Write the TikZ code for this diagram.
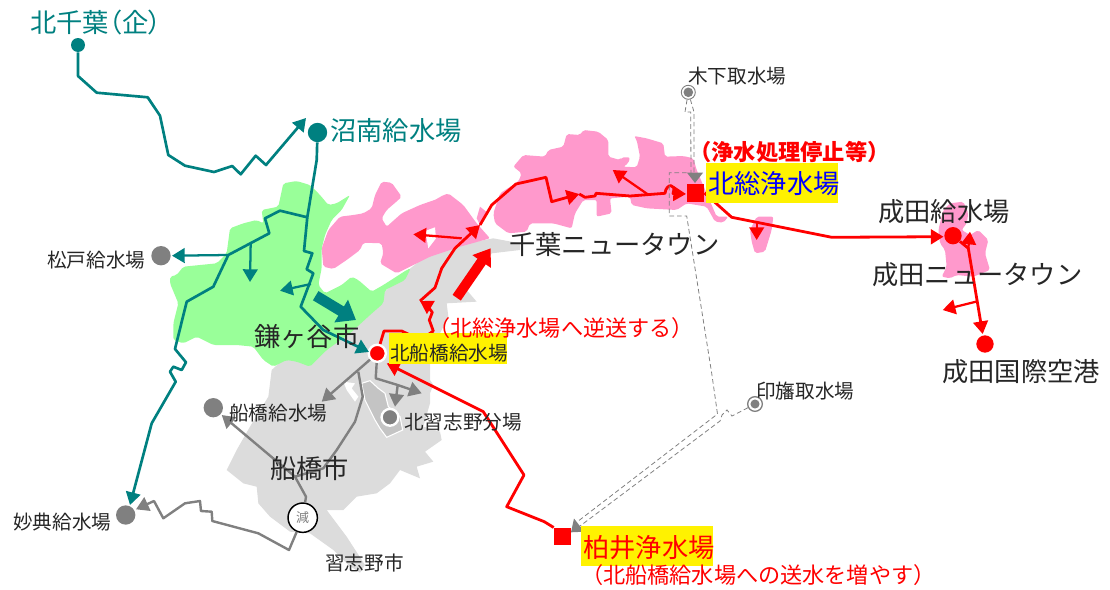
\documentclass[tikz,border=0pt]{standalone}
\usepackage{fontspec}
\setmainfont{Noto Sans CJK JP}
\newfontfamily\jpp[RawFeature=+palt]{Noto Sans CJK JP}
\usetikzlibrary{arrows.meta}
\definecolor{tealc}{HTML}{008080}
\definecolor{grayc}{HTML}{808080}
\definecolor{greenr}{HTML}{99FF99}
\definecolor{pinkr}{HTML}{FF99CC}
\definecolor{grayr}{HTML}{DCDCDC}
\definecolor{lgrayr}{HTML}{C4C4C4}
\definecolor{redc}{HTML}{FF0000}
\definecolor{inkc}{HTML}{262626}
\tikzset{
  zm/.style 2 args={shift={(#1,#2)},x=0.25pt,y=-0.25pt},
  soft/.style={rounded corners=1.5pt},
  lbig/.style={anchor=west,inner sep=0,text=inkc,font=\fontsize{19.7}{20}\selectfont},
  lsmall/.style={anchor=west,inner sep=0,text=inkc,font=\fontsize{14.7}{15}\selectfont},
  lnote/.style={anchor=west,inner sep=0,text=redc,font=\fontsize{16.6}{17}\selectfont},
  ybox/.style={fill=yellow,draw=none},
  site/.style={circle,inner sep=0,minimum size=#1,draw=none},
  sq/.style={rectangle,inner sep=0,minimum size=12.8pt,fill=redc},
  ht/.style={-{Triangle[length=9.5pt,width=11pt]}},
  teall/.style={draw=tealc,line width=2pt,line join=round},
  tealb/.style={draw=tealc,line width=1.7pt,ht},
  redl/.style={draw=redc,line width=2.1pt,line join=round},
  redb/.style={draw=redc,line width=1.7pt,ht},
  grayl/.style={draw=grayc,line width=1.8pt,line join=round},
  dash1/.style={draw=grayc,line width=0.6pt,dash pattern=on 3.5pt off 2.2pt},
}
\begin{document}
\begin{tikzpicture}[x=0.75pt,y=-0.75pt]
\useasboundingbox (0,0) rectangle (1110,589);
% ---------- regions ----------
\begin{scope}[zm={200}{270}]
\fill[grayr] (960,-80) -- (880,-95) -- (700,-60) -- (600,20) -- (530,90) -- (400,130) -- (215,300) -- (205,380) -- (150,470) -- (110,540) -- (80,600) -- (130,640) -- (170,650) -- (175,700) -- (210,740) -- (270,785) -- (330,790) -- (400,840) -- (445,885) -- (480,908) -- (495,885) -- (440,800) -- (380,720) -- (430,720) -- (470,680) -- (530,670) -- (570,640) -- (600,600) -- (660,625) -- (650,590) -- (700,575) -- (675,545) -- (725,510) -- (720,485) -- (670,470) -- (690,400) -- (690,370) -- (700,345) -- (690,330) -- (690,282) -- (720,190) -- (745,140) -- (740,100) -- (830,95) -- (800,60) -- (840,10) -- (875,-50) -- (960,-60) -- cycle;
\end{scope}
\begin{scope}[zm={150}{170}]
\fill[greenr,soft] (400,40) -- (440,33) -- (480,45) -- (510,75) -- (535,105) -- (560,100) -- (600,75) -- (575,120) -- (545,150) -- (525,195) -- (515,235) -- (515,295) -- (505,345) -- (525,370) -- (575,345) -- (605,320) -- (625,330) -- (665,365) -- (700,345) -- (770,300) -- (782,295) -- (765,330) -- (705,360) -- (700,400) -- (660,435) -- (600,490) -- (530,540) -- (480,590) -- (440,575) -- (410,570) -- (370,590) -- (340,570) -- (310,530) -- (260,525) -- (190,525) -- (140,500) -- (100,520) -- (70,510) -- (70,460) -- (85,400) -- (60,340) -- (60,320) -- (80,315) -- (100,290) -- (200,280) -- (230,250) -- (240,175) -- (280,160) -- (320,150) -- (340,160) -- (335,120) -- (385,110) -- cycle;
\end{scope}
\begin{scope}[zm={0}{0}]
\fill[pinkr,soft] (965,745) -- (985,690) -- (1020,650) -- (1060,645) -- (1090,640) -- (1115,625) -- (1125,585) -- (1145,545) -- (1175,548) -- (1205,590) -- (1195,600) -- (1160,630) -- (1145,655) -- (1160,680) -- (1205,640) -- (1260,615) -- (1312,597) -- (1320,590) -- (1345,580) -- (1390,615) -- (1430,670) -- (1470,715) -- (1380,740) -- (1290,770) -- (1230,800) -- (1190,820) -- (1140,790) -- (1150,760) -- (1145,730) -- (1090,728) -- (1080,750) -- (1040,780) -- (1000,807) -- (970,800) -- cycle;
\fill[white] (1270,695) -- (1305,682) -- (1308,715) -- (1285,745) -- (1280,715) -- cycle;
\end{scope}
\begin{scope}[zm={480}{60}]
\fill[pinkr,soft] (100,320) -- (130,285) -- (195,290) -- (205,270) -- (250,260) -- (260,222) -- (300,225) -- (310,210) -- (355,215) -- (385,240) -- (385,290) -- (420,300) -- (425,292) -- (450,292) -- (445,310) -- (430,320) -- (470,322) -- (480,290) -- (470,240) -- (462,228) -- (500,235) -- (550,250) -- (555,290) -- (610,288) -- (640,295) -- (650,330) -- (680,400) -- (710,470) -- (745,470) -- (730,488) -- (705,485) -- (680,440) -- (620,430) -- (590,450) -- (500,445) -- (455,435) -- (450,410) -- (390,415) -- (395,460) -- (350,470) -- (350,420) -- (310,420) -- (285,460) -- (275,505) -- (220,490) -- (150,490) -- (140,515) -- (85,520) -- (45,490) -- (40,460) -- (60,400) -- (115,365) -- (125,340) -- cycle;
\fill[pinkr] (0,440) -- (25,460) -- (0,495) -- (-10,475) -- cycle;
\fill[pinkr,soft] (810,510) -- (830,470) -- (880,470) -- (875,510) -- (855,575) -- (825,580) -- (815,545) -- cycle;
\end{scope}
\begin{scope}[zm={800}{180}]
\fill[pinkr,soft] (415,150) -- (430,90) -- (450,70) -- (490,65) -- (505,100) -- (500,130) -- (485,150) -- (510,165) -- (535,150) -- (565,180) -- (555,220) -- (570,270) -- (520,290) -- (470,285) -- (450,295) -- (425,290) -- (440,260) -- (435,210) -- (420,190) -- cycle;
\end{scope}
\begin{scope}[zm={330}{350}]
\fill[white] (40,95) -- (75,100) -- (65,115) -- (85,140) -- (75,155) -- (50,120) -- cycle;
\fill[lgrayr,draw=white,line width=0.8pt] (95,100) -- (120,92) -- (145,115) -- (165,130) -- (175,170) -- (210,200) -- (218,240) -- (170,262) -- (150,235) -- (135,210) -- (105,150) -- cycle;
\end{scope}
% ---------- stations ----------
\node[site=10.5pt,fill=tealc] (chiba) at (78,45) {};
\node[site=14.5pt,fill=tealc] (shonan) at (317.5,132.5) {};
\node[site=14.5pt,fill=grayc] (matsudo) at (161,255.7) {};
\node[site=14.5pt,fill=grayc] (funabashi) at (213.3,407.7) {};
\node[site=14.5pt,fill=grayc] (myoden) at (125.7,515) {};
\node[site=12.6pt,fill=grayc,draw=white,line width=1.8pt] (narashino) at (390,417.3) {};
\node[site=12.8pt,fill=redc,draw=white,line width=1.8pt] (kitafuna) at (377.3,353.3) {};
\node[site=13pt,fill=redc] (narita) at (953,235.7) {};
\node[site=13pt,fill=redc] (airport) at (985,344) {};
\node[sq] (hokuso) at (695.7,193) {};
\node[sq] (kashiwai) at (562.5,536.3) {};
\node[site=22pt,fill=white,draw=black,line width=1.1pt,text=grayc,font=\fontsize{9.75}{10}\selectfont] (gen) at (302.7,517.7) {減};
\node[site=10.5pt,fill=white,draw=grayc,line width=0.7pt] (kioroshi) at (688.3,92.3) {};
\fill[grayc] (kioroshi) circle (3.6pt);
\node[site=11pt,fill=white,draw=grayc,line width=1pt] (inba) at (755,404) {};
\fill[grayc] (inba) circle (3.4pt);
% ---------- free ends ----------
\coordinate (jA) at (307.3,217.3);
\coordinate (jB) at (228.3,255);
\coordinate (jC) at (269.3,233.3);
\coordinate (jD) at (311,284);
\coordinate (rJ1) at (420,301);
\coordinate (rJ2) at (480,225);
\coordinate (rJ3) at (579.3,194);
\coordinate (rJ4) at (647.7,194.3);
\coordinate (rJ5) at (756.7,223.3);
\coordinate (rJ6) at (968.3,248.3);
\coordinate (rJ7) at (976,301.7);
\coordinate (rJ8) at (461.7,238.3);
\coordinate (gJ1) at (358.3,371.7);
\coordinate (gJ2) at (295,476.7);
\coordinate (gJ3) at (397.7,385);
% ---------- teal ----------
\draw[teall,ht] (chiba) -- (78,76) -- (96.7,92.7) -- (147.7,97.3) -- (160,115.7) -- (168.3,155) -- (185,165.7) -- (214,172) -- (232.3,166) -- (240.7,174.3) -- (255.7,155.7) -- (266,165) -- (306,118);
\draw[teall,ht] (shonan) -- (316.7,160) -- (jA) -- (304,251) -- (312.3,253.3) -- (306.7,269.3) -- (313.3,273.3) -- (300.7,306.7) -- (323.3,330) -- (369,352);
\draw[teall,ht] (jA) -- (280,210.7) -- (265,218.3) -- (jC) -- (jB) -- (213.3,286.7) -- (186.7,301.7) -- (175,349) -- (186,362.3) -- (181.7,370) -- (173.3,366.7) -- (170,371.7) -- (175.7,381.7) -- (151.7,423.3) -- (130,505);
\draw[tealb] (jB) -- (172,255.7);
\draw[tealb] (250.7,242.7) -- (250,282);
\draw[tealb] (jD) -- (280,290.7);
\draw[draw=tealc,line width=8pt,-{Triangle[length=13pt,width=19pt]}] (315.7,295.7) -- (356,320);
% ---------- red ----------
\draw[draw=redc,line width=7.5pt,-{Triangle[length=12pt,width=16pt]}] (456.7,297.7) -- (490.7,248.3);
\draw[redl,ht] (kitafuna) -- (384,331) -- (401.7,331) -- (420.7,340) -- (433.3,331) -- (429.3,320) -- (432.3,312.3) -- (426.7,305) -- (rJ1);
\draw[redl,ht] (rJ1) -- (435,287.7) -- (441.7,268.3) -- (455,248.3) -- (rJ2);
\draw[redl,ht] (rJ2) -- (491.7,205) -- (491.7,205) -- (516,184) -- (546,177.3) -- (551.7,201.7) -- (rJ3);
\draw[redl,ht] (rJ3) -- (585,197.3) -- (595,196) -- (596,193.3) -- (630,196) -- (665,193.3) .. controls (666,183) and (677,183) .. (673,193.5) -- (686,194);
\draw[redb] (rJ4) -- (612.7,170);
\draw[redb] (rJ8) -- (413.3,234.3);
\draw[redl,ht] (hokuso.east) -- (731.7,217.3) -- (831.7,237.3) -- (943.5,236.7);
\draw[redb] (rJ5) -- (756.7,240);
\draw[redl,ht] (narita) -- (rJ6) -- (982.7,334);
\draw[redb] (rJ6) -- (970,231.7);
\draw[redb] (rJ7) -- (942.7,310);
\draw[redl,ht] (kashiwai.north west) -- (544.3,521.7) -- (506.7,506.7) -- (524,475) -- (483.3,411.7) -- (386.7,363.3);
% ---------- grey ----------
\draw[grayl,ht] (kitafuna) -- (321.7,401.7);
\draw[grayl] (gJ1) -- (362.7,396.7) -- (355,421.7) -- (336.7,450) -- (323.3,468.3) -- (gJ2) -- (306,496.7) -- (gen);
\draw[grayl,ht] (gJ2) -- (221.7,415);
\draw[grayl,ht] (gen) -- (289,550) -- (258.3,533.3) -- (212.3,521) -- (211.7,511.7) -- (201,511) -- (200,501) -- (185,503.3) -- (163.3,518.3) -- (154,501) -- (136,509.3);
\draw[grayl,ht] (kitafuna) -- (375.7,378.3) -- (gJ3) -- (421.7,393.3);
\draw[grayl,ht] (gJ3) -- (395,406.7);
% ---------- dashed water lines ----------
\draw[dash1] (kioroshi) -- (685,112) -- (690.7,112) -- (691,174);
\draw[dash1] (kioroshi) -- (694,112) -- (694,174);
\draw[dash1] (686.7,172.7) -- (669.3,172.7) -- (669.3,216) -- (686.7,216) -- (711.7,373.3) -- (717.5,414) -- (577,522);
\draw[dash1] (inba) -- (732,416) -- (727,410) -- (722,415) -- (720,421) -- (580,526);
\fill[grayc] (695,183) -- (687,172.7) -- (703,172.7) -- cycle;
\fill[grayc] (571,532.3) -- (574,518.5) -- (584.3,531.7) -- cycle;
% ---------- labels ----------
\node[ybox,minimum width=99pt,minimum height=30pt,inner sep=0,anchor=north west] (yb1) at (706,163) {};
\node[ybox,minimum width=88.5pt,minimum height=23.2pt,inner sep=0,anchor=north west] (yb2) at (389,333) {};
\node[ybox,minimum width=99pt,minimum height=29.6pt,inner sep=0,anchor=north west] (yb3) at (581,526) {};
\node[lbig,text=tealc] (t1) at (30,23) {\jpp 北千葉（企）};
\node[lbig,text=tealc] (t2) at (330,131) {沼南給水場};
\node[lsmall] (t3) at (47,260) {松戸給水場};
\node[lsmall] (t4) at (688,76) {木下取水場};
\node[lnote,font=\fontsize{16.7}{17}\selectfont\bfseries] (t5) at (689,152) {（浄水処理停止等）};
\node[lbig,text=blue] (t6) at (708,184) {北総浄水場};
\node[lbig] (t7) at (878,212) {成田給水場};
\node[lbig] (t8) at (509,245) {千葉ニュータウン};
\node[lbig] (t9) at (872,275) {成田ニュータウン};
\node[lbig] (t10) at (942,372) {成田国際空港};
\node[lnote] (t11) at (428,328) {（北総浄水場へ逆送する）};
\node[lbig] (t12) at (254,336) {鎌ヶ谷市};
\node[lsmall] (t13) at (390,353) {北船橋給水場};
\node[lsmall] (t14) at (229,413) {船橋給水場};
\node[lsmall] (t15) at (404,422) {北習志野分場};
\node[lbig] (t16) at (270,468) {船橋市};
\node[lsmall] (t17) at (325,563) {習志野市};
\node[lsmall] (t18) at (13,522) {妙典給水場};
\node[lsmall] (t19) at (756,391) {印旛取水場};
\node[lbig,text=redc] (t20) at (583,548) {柏井浄水場};
\node[lnote] (t21) at (581,575) {（北船橋給水場への送水を増やす）};
\end{tikzpicture}
\end{document}
